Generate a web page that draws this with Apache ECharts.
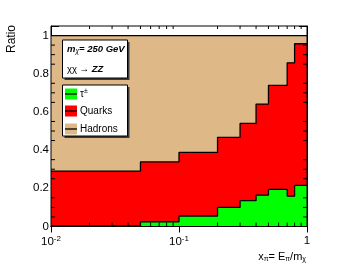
<!DOCTYPE html>
<html><head><meta charset="utf-8">
<script src="https://cdn.jsdelivr.net/npm/echarts@6/dist/echarts.min.js"></script>
<style>html,body{margin:0;padding:0;background:#fff}#c{width:341px;height:264px}</style>
</head><body><div id="c"></div>
<script>
// bin edges of x_pi = E_pi / m_chi
const binEdges = [0.01, 0.05, 0.1, 0.2, 0.3, 0.4, 0.5, 0.7, 0.8, 1.0];
// fractions per bin
const tauFrac    = [0.003, 0.025, 0.055, 0.100, 0.135, 0.164, 0.194, 0.159, 0.215];
const quarkFrac  = [0.287, 0.313, 0.333, 0.367, 0.405, 0.477, 0.545, 0.698, 0.742];
const hadronFrac = [0.710, 0.662, 0.612, 0.533, 0.460, 0.359, 0.261, 0.143, 0.043];
const seriesNames = ['\u03c4\u00b1', 'Quarks', 'Hadrons'];
const xMinorTicks = [0.02,0.03,0.04,0.05,0.06,0.07,0.08,0.09,0.2,0.3,0.4,0.5,0.6,0.7,0.8,0.9];
const yMinorTicks = [0.05,0.1,0.15,0.25,0.3,0.35,0.45,0.5,0.55,0.65,0.7,0.75,0.85,0.9,0.95];

const FONT = '"Liberation Sans", Arial, Helvetica, sans-serif';
const Y_MAX = 1.05;

function cumulative(arrs) {
  return binEdges.slice(0, -1).map((_, i) => arrs.reduce((s, a) => s + a[i], 0));
}
function stepData(vals) {
  const d = vals.map((v, i) => [binEdges[i], v]);
  d.push([binEdges[binEdges.length - 1], vals[vals.length - 1]]);
  return d;
}
const topTau = cumulative([tauFrac]);
const topQuark = cumulative([tauFrac, quarkFrac]);
const topHadron = cumulative([tauFrac, quarkFrac, hadronFrac]);

function stepSeries(name, vals, color, z) {
  return {
    name, type: 'line', step: 'end', data: stepData(vals), symbol: 'none',
    xAxisIndex: 0, yAxisIndex: 0, z,
    lineStyle: { color: '#000', width: 1.3 },
    areaStyle: { color, opacity: 1, origin: 'start' },
    itemStyle: { color }, animation: false, silent: true
  };
}

const chart = echarts.init(document.getElementById('c'), null, { renderer: 'canvas' });

const axisLineBlack = { show: true, lineStyle: { color: '#000', width: 1 } };
function xAx(pos, labels) {
  return {
    type: 'log', logBase: 10, min: 0.01, max: 1, position: pos,
    axisLine: axisLineBlack,
    axisTick: { show: true, inside: true, length: labels ? 8 : 6, lineStyle: { color: '#000' } },
    splitLine: { show: false },
    minorTick: { show: false },
    axisLabel: labels ? {
      show: true, margin: 8, color: '#000', fontFamily: FONT, fontSize: 11.5,
      formatter: v => {
        if (Math.abs(v - 1) < 1e-9) return '1';
        const e = Math.round(Math.log10(v));
        return '10{sup|' + e + '}';
      },
      rich: { sup: { fontSize: 8, verticalAlign: 'top', padding: [0, 0, 7, 0], fontFamily: FONT, color: '#000' } }
    } : { show: false }
  };
}
function yAx(pos, labels) {
  return {
    type: 'value', min: 0, max: Y_MAX, interval: 0.2, position: pos,
    axisLine: axisLineBlack,
    axisTick: { show: true, inside: true, length: 8, lineStyle: { color: '#000' } },
    splitLine: { show: false },
    axisLabel: labels ? {
      show: true, margin: 2, color: '#000', fontFamily: FONT, fontSize: 11.5,
      formatter: v => (Math.abs(v * 5 - Math.round(v * 5)) < 1e-6 ? String(+v.toFixed(1)) : '')
    } : { show: false }
  };
}

const ZG = 100;
function legendEntry(y, color, label) {
  return [
    { type: 'rect', z: ZG + 2, shape: { x: 65, y: y - 5.5, width: 12, height: 11 }, style: { fill: color } },
    { type: 'line', z: ZG + 3, shape: { x1: 65, y1: y, x2: 77, y2: y }, style: { stroke: '#000', lineWidth: 1.3 } },
    { type: 'text', z: ZG + 3, x: 80, y: y, style: { text: label, font: '10px ' + FONT, fill: '#000', verticalAlign: 'middle', rich: {
      sup: { fontSize: 7, verticalAlign: 'top', padding: [0, 0, 6, 0], fontFamily: FONT }
    } } }
  ];
}

const option = {
  animation: false,
  backgroundColor: '#fff',
  grid: { left: 51, right: 34, top: 26, bottom: 37.5, show: true, borderColor: '#000', borderWidth: 1, backgroundColor: 'transparent', z: 10 },
  xAxis: [xAx('bottom', true), xAx('top', false)],
  yAxis: [yAx('left', true), yAx('right', false)],
  series: [
    stepSeries(seriesNames[2], topHadron, '#deb887', 2),
    stepSeries(seriesNames[1], topQuark, '#ff0000', 3),
    stepSeries(seriesNames[0], topTau, '#00ff00', 4),
    {
      type: 'custom', coordinateSystem: 'cartesian2d', xAxisIndex: 0, yAxisIndex: 0, z: 20, clip: false, silent: true,
      data: xMinorTicks.map(v => [v, 0]),
      renderItem: (params, api) => {
        const v = api.value(0);
        const b = api.coord([v, 0]);
        const t = api.coord([v, Y_MAX]);
        return { type: 'group', children: [
          { type: 'line', shape: { x1: b[0], y1: b[1], x2: b[0], y2: b[1] - 4 }, style: { stroke: '#000', lineWidth: 1 } },
          { type: 'line', shape: { x1: t[0], y1: t[1], x2: t[0], y2: t[1] + 3 }, style: { stroke: '#000', lineWidth: 1 } }
        ] };
      }
    },
    {
      type: 'custom', coordinateSystem: 'cartesian2d', xAxisIndex: 0, yAxisIndex: 0, z: 20, clip: false, silent: true,
      data: yMinorTicks.map(v => [0.01, v]),
      renderItem: (params, api) => {
        const v = api.value(1);
        const l = api.coord([0.01, v]);
        const r = api.coord([1, v]);
        return { type: 'group', children: [
          { type: 'line', shape: { x1: l[0], y1: l[1], x2: l[0] + 4, y2: l[1] }, style: { stroke: '#000', lineWidth: 1 } },
          { type: 'line', shape: { x1: r[0], y1: r[1], x2: r[0] - 4, y2: r[1] }, style: { stroke: '#000', lineWidth: 1 } }
        ] };
      }
    }
  ],
  graphic: { elements: [
    { type: 'text', z: ZG, x: 12, y: 25, rotation: Math.PI / 2, style: { text: 'Ratio', font: '12px ' + FONT, fill: '#000', align: 'right', verticalAlign: 'middle' } },
    { type: 'text', z: ZG, x: 306, y: 257, style: { text: 'x{sub|\u03c0}= E{sub|\u03c0}/m{sub|\u03c7}', font: '11px ' + FONT, fill: '#000', align: 'right', verticalAlign: 'middle',
      rich: { sub: { fontSize: 7, verticalAlign: 'bottom', padding: [5, 0, 0, 0], fontFamily: FONT, color: '#000' } } } },
    // header box
    { type: 'rect', z: ZG, shape: { x: 64.5, y: 42, width: 65, height: 38 }, style: { fill: '#3a3a3a' } },
    { type: 'rect', z: ZG + 1, shape: { x: 62.5, y: 40, width: 65, height: 38 }, style: { fill: '#fff', stroke: '#000', lineWidth: 1 } },
    { type: 'text', z: ZG + 2, x: 67, y: 49, style: { text: '{b|m}{s|\u03c7}{b|= 250 GeV}', verticalAlign: 'middle', rich: {
      b: { fontFamily: FONT, fontSize: 9.5, fontWeight: 'bold', fontStyle: 'italic', color: '#000' },
      s: { fontFamily: FONT, fontSize: 6.5, fontStyle: 'italic', color: '#000', verticalAlign: 'bottom', padding: [5, 0, 0, 0] }
    } } },
    { type: 'text', z: ZG + 2, x: 67, y: 69, style: { text: '{r|\u03c7\u03c7 \u2192 }{b|ZZ}', verticalAlign: 'middle', rich: {
      r: { fontFamily: FONT, fontSize: 9.5, color: '#000' },
      b: { fontFamily: FONT, fontSize: 9.5, fontWeight: 'bold', fontStyle: 'italic', color: '#000' }
    } } },
    // legend box
    { type: 'rect', z: ZG, shape: { x: 64.5, y: 87, width: 65, height: 51 }, style: { fill: '#3a3a3a' } },
    { type: 'rect', z: ZG + 1, shape: { x: 62.5, y: 85, width: 65, height: 51 }, style: { fill: '#fff', stroke: '#000', lineWidth: 1 } },
    ...legendEntry(94, '#00ff00', '\u03c4{sup|\u00b1}'),
    ...legendEntry(111, '#ff0000', seriesNames[1]),
    ...legendEntry(129, '#deb887', seriesNames[2])
  ] }
};
chart.setOption(option);
</script></body></html>
